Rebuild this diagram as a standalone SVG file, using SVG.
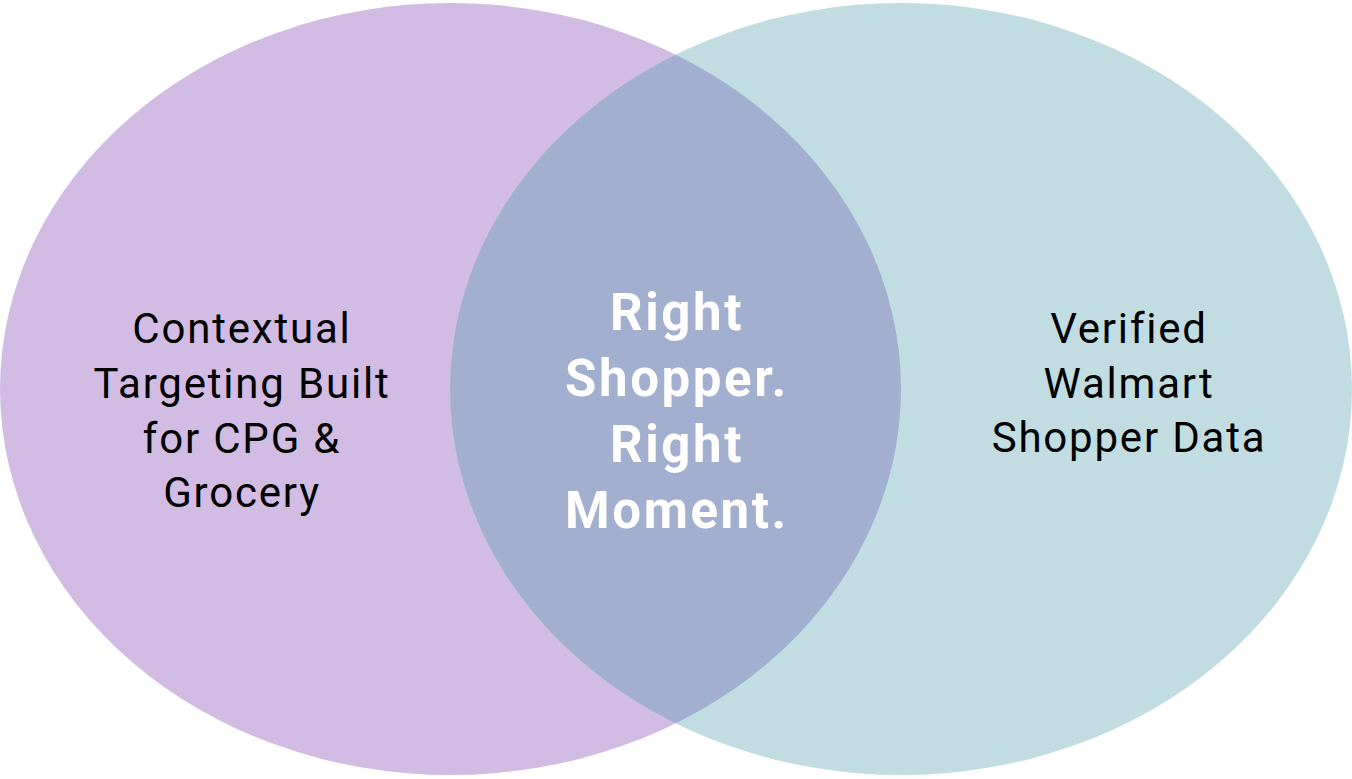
<svg xmlns="http://www.w3.org/2000/svg" width="1352" height="779" viewBox="0 0 1352 779">
<style>
.lbl{font-family:Roboto,"Liberation Sans",sans-serif;font-size:42px;letter-spacing:1.8px;fill:#000;text-anchor:middle}
.ctr{font-family:Roboto,"Liberation Sans",sans-serif;font-size:51px;letter-spacing:2.6px;font-weight:bold;fill:#fff;text-anchor:middle}
</style>
<defs>
<clipPath id="clipL"><ellipse cx="450.5" cy="389" rx="450.5" ry="386"/></clipPath>
</defs>
<rect width="1352" height="779" fill="#fff"/>
<g id="left-set">
<ellipse cx="450.5" cy="389" rx="450.5" ry="386" fill="#D2BCE3"/>
</g>
<g id="right-set">
<ellipse cx="901" cy="389" rx="451" ry="386" fill="#C1DDE1"/>
</g>
<g id="overlap">
<ellipse cx="901" cy="389" rx="451" ry="386" fill="#A2AFCE" clip-path="url(#clipL)"/>
</g>
<g id="connectors"></g>
<g id="left-label">
<text class="lbl" x="242" y="343">Contextual</text>
<text class="lbl" x="242" y="398">Targeting Built</text>
<text class="lbl" x="242" y="453">for CPG &amp;</text>
<text class="lbl" x="242" y="507">Grocery</text>
</g>
<g id="right-label">
<text class="lbl" x="1129" y="343">Verified</text>
<text class="lbl" x="1129" y="398">Walmart</text>
<text class="lbl" x="1129" y="452">Shopper Data</text>
</g>
<g id="center-label">
<text class="ctr" x="677" y="330">Right</text>
<text class="ctr" x="677" y="396">Shopper.</text>
<text class="ctr" x="677" y="462">Right</text>
<text class="ctr" x="677" y="528">Moment.</text>
</g>
</svg>
